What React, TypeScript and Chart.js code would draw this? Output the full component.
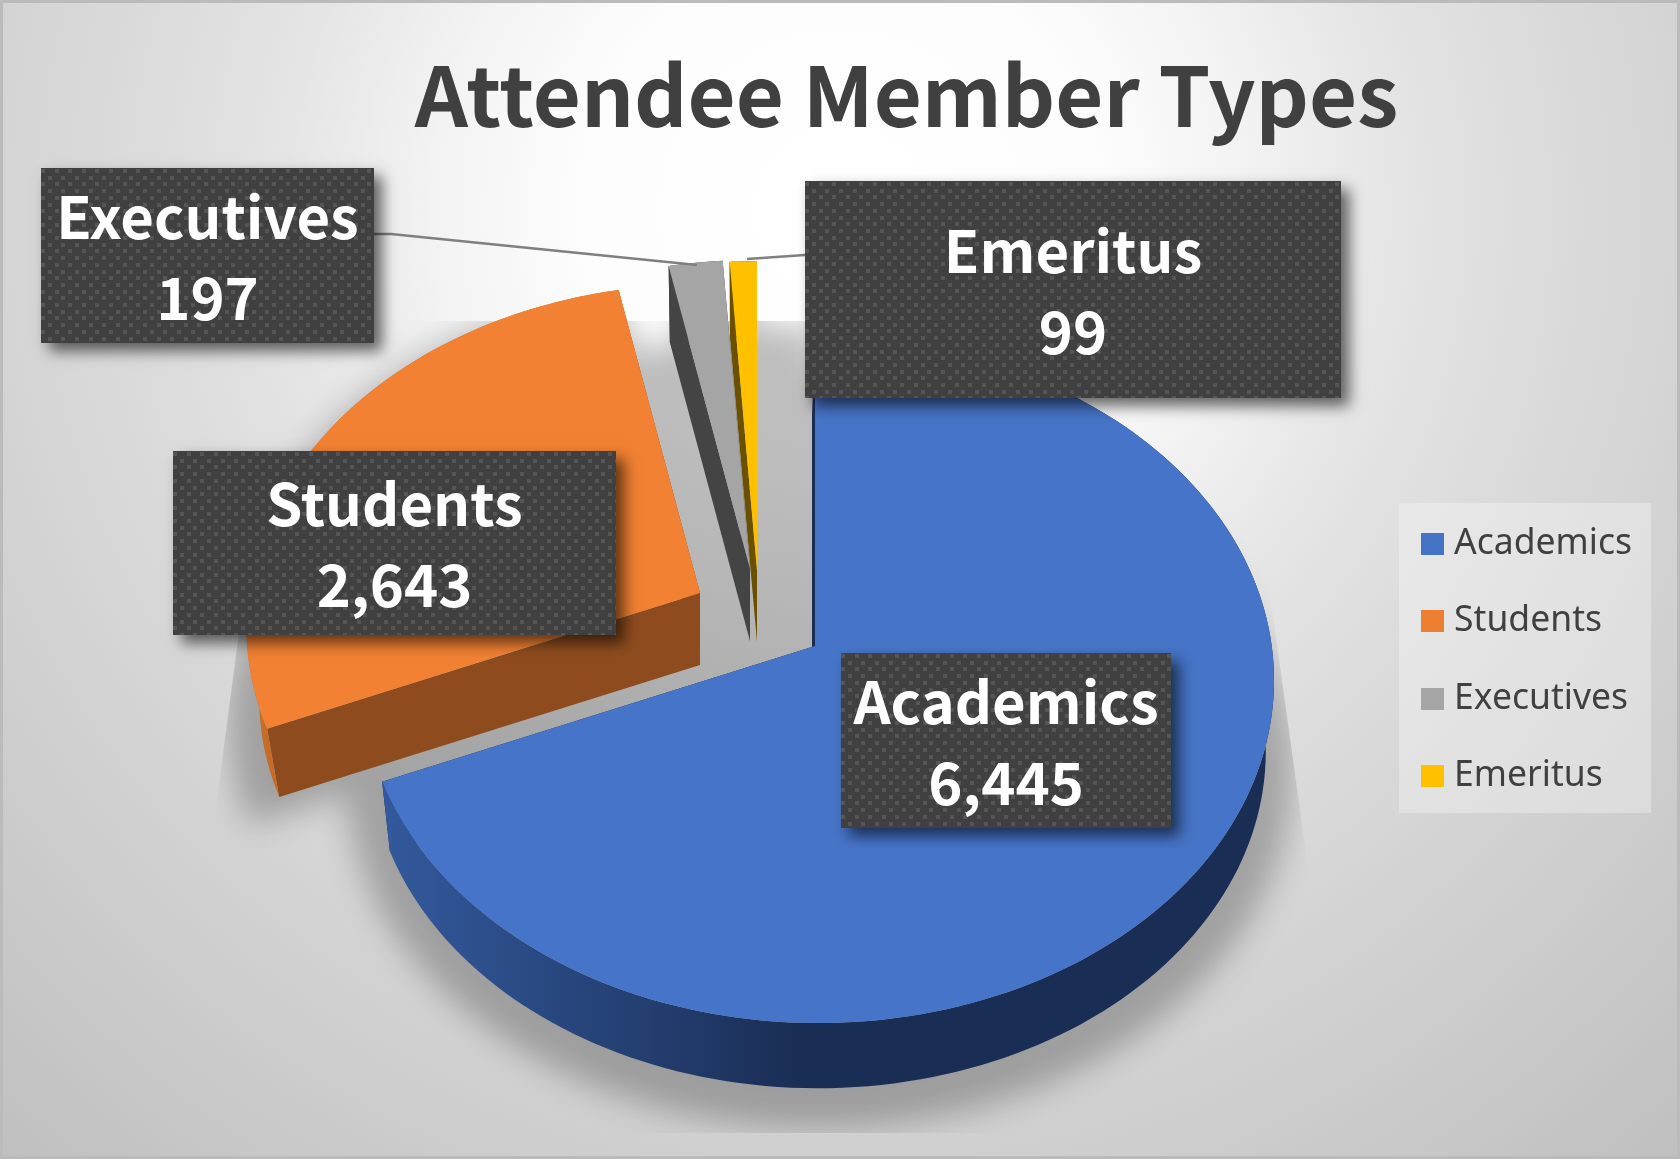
import React, { useEffect, useRef } from "react";
import { Chart, registerables } from "chart.js";

Chart.register(...registerables);

const chartTitle = "Attendee Member Types";
const categories = ["Academics", "Students", "Executives", "Emeritus"];
const memberCounts = [6445, 2643, 197, 99];

const legendColors = ["#4472c4", "#ed7d31", "#a5a5a5", "#ffc000"];
const faceColors = ["#4674c8", "#f28133", "#a5a5a5", "#ffc000"];
const cutColors = ["#1a2e55", "#8e4c1e", "#444444", "#6b5000"];
const rimColors = ["#1a2e55", "#c66c27", "#444444", "#6b5000"];

const W = 1680;
const H = 1159;
const TAU = Math.PI * 2;

// view of the tilted disc
const RADIUS_X = 454;
const RADIUS_Y = 339.6;
const PERSPECTIVE_Y = 0.0993;
const PERSPECTIVE_X = 0.006;
const DEPTH = 72;
const APEX = [
  { x: 815, y: 646, cutDx: -3, bottom: 0.982 },
  { x: 700, y: 593, cutDx: 0, bottom: 0.972 },
  { x: 750, y: 569, cutDx: 0, bottom: 0.985 },
  { x: 757, y: 570, cutDx: 0, bottom: 0.985 },
];
const DRAW_ORDER = [1, 2, 3, 0];

const LABEL_BOXES = [
  { l: 841, t: 653, r: 1171, b: 828 },
  { l: 173, t: 451, r: 616, b: 635 },
  { l: 41, t: 168, r: 374, b: 343 },
  { l: 805, t: 181, r: 1341, b: 398 },
];
const LEADERS = [
  null,
  null,
  [[374, 234], [391, 234], [697, 265]],
  [[805, 255], [747, 259]],
];

const project = (theta: number, a: { x: number; y: number }, scale = 1, dy = 0, dx = 0) => {
  const u = Math.sin(theta);
  const v = -Math.cos(theta);
  const w = 1 - PERSPECTIVE_Y * v - PERSPECTIVE_X * u;
  return {
    x: a.x + dx + (scale * RADIUS_X * u) / w,
    y: a.y + dy + (scale * RADIUS_Y * v) / w,
  };
};

const sweep = (t0: number, t1: number) => {
  const n = Math.max(2, Math.ceil(((t1 - t0) / TAU) * 240));
  const out: number[] = [];
  for (let i = 0; i <= n; i++) out.push(t0 + ((t1 - t0) * i) / n);
  return out;
};

const wedgePath = (ctx: CanvasRenderingContext2D, t0: number, t1: number, a: any, scale = 1, dy = 0) => {
  ctx.moveTo(a.x, a.y + dy);
  for (const t of sweep(t0, t1)) {
    const p = project(t, a, scale, dy);
    ctx.lineTo(p.x, p.y);
  }
  ctx.closePath();
};

const backdrop = {
  id: "backdrop",
  beforeDraw(chart: any) {
    const ctx: CanvasRenderingContext2D = chart.ctx;
    ctx.save();
    const g = ctx.createRadialGradient(840, 210, 0, 840, 210, 1260);
    g.addColorStop(0, "#ffffff");
    g.addColorStop(0.2, "#fdfdfd");
    g.addColorStop(0.32, "#f3f3f3");
    g.addColorStop(0.44, "#e5e5e5");
    g.addColorStop(0.55, "#dcdcdc");
    g.addColorStop(0.645, "#d6d6d6");
    g.addColorStop(0.74, "#d0d0d0");
    g.addColorStop(0.95, "#c3c3c3");
    g.addColorStop(1, "#c0c0c0");
    ctx.fillStyle = g;
    ctx.fillRect(0, 0, W, H);
    ctx.strokeStyle = "#bbbbbb";
    ctx.lineWidth = 6;
    ctx.strokeRect(0, 0, W, H);
    // legend panel
    ctx.fillStyle = "rgba(255,255,255,0.3)";
    ctx.fillRect(1399, 503, 252, 310);
    ctx.restore();
  },
};

const pie3d = {
  id: "pie3d",
  beforeDatasetsDraw(chart: any) {
    const ctx: CanvasRenderingContext2D = chart.ctx;
    const arcs = chart.getDatasetMeta(0).data;
    const angles = arcs.map((el: any) => {
      const p = el.getProps(["startAngle", "endAngle"], true);
      return [p.startAngle + Math.PI / 2, p.endAngle + Math.PI / 2];
    });

    // cast shadow, limited to the floor trapezoid
    ctx.save();
    ctx.beginPath();
    ctx.moveTo(280, 321);
    ctx.lineTo(1232, 321);
    ctx.lineTo(1345, 1133);
    ctx.lineTo(173, 1133);
    ctx.closePath();
    ctx.clip();
    ctx.filter = "blur(16px)";
    ctx.fillStyle = "rgba(0,0,0,0.25)";
    ctx.beginPath();
    const hub = APEX[0];
    wedgePath(ctx, 0, TAU, hub, 0.96, 20);
    wedgePath(ctx, 5.5, TAU, hub, 1.04, 0);
    wedgePath(ctx, 0, TAU, hub, 1.04, 85);
    angles.forEach((t: number[], i: number) => {
      wedgePath(ctx, t[0], t[1], APEX[i], 1.04, 90);
      if (i > 0) wedgePath(ctx, t[0], t[1], APEX[i], 1, 0);
    });
    ctx.fill("nonzero");
    ctx.restore();

    for (const i of DRAW_ORDER) {
      const [t0, t1] = angles[i];
      const a = APEX[i];
      const ts = sweep(t0, t1);

      // cut walls
      for (const t of [t0, t1]) {
        const dx = t === t0 ? a.cutDx : 0;
        const p0 = project(t, a);
        const p1 = project(t, a, a.bottom, DEPTH, dx);
        ctx.beginPath();
        ctx.moveTo(a.x, a.y);
        ctx.lineTo(p0.x, p0.y);
        ctx.lineTo(p1.x, p1.y);
        ctx.lineTo(a.x + dx, a.y + DEPTH);
        ctx.closePath();
        ctx.fillStyle = cutColors[i];
        ctx.fill();
      }

      // rim wall
      let rimFill: any = rimColors[i];
      if (i === 0) {
        const g = ctx.createLinearGradient(385, 0, 800, 0);
        g.addColorStop(0, "#33599c");
        g.addColorStop(1, "#1a2e55");
        rimFill = g;
      }
      ctx.beginPath();
      ts.forEach((t, k) => {
        const p = project(t, a);
        if (k === 0) ctx.moveTo(p.x, p.y);
        else ctx.lineTo(p.x, p.y);
      });
      [...ts].reverse().forEach((t) => {
        const p = project(t, a, a.bottom, DEPTH);
        ctx.lineTo(p.x, p.y);
      });
      ctx.closePath();
      ctx.fillStyle = rimFill;
      ctx.fill();

      // top face
      ctx.beginPath();
      wedgePath(ctx, t0, t1, a);
      ctx.fillStyle = faceColors[i];
      ctx.fill();
    }
    return false;
  },
};

const dataLabels = {
  id: "dataLabels",
  afterDraw(chart: any) {
    const ctx: CanvasRenderingContext2D = chart.ctx;
    const names: string[] = chart.data.labels;
    const values: number[] = chart.data.datasets[0].data;
    ctx.save();
    ctx.strokeStyle = "#7f7f7f";
    ctx.lineWidth = 2.5;
    LEADERS.forEach((pts) => {
      if (!pts) return;
      ctx.beginPath();
      pts.forEach((p, k) => (k ? ctx.lineTo(p[0], p[1]) : ctx.moveTo(p[0], p[1])));
      ctx.stroke();
    });
    names.forEach((name, i) => {
      const b = LABEL_BOXES[i];
      const w = b.r - b.l;
      const h = b.b - b.t;
      ctx.save();
      ctx.shadowColor = "rgba(0,0,0,0.6)";
      ctx.shadowBlur = 14;
      ctx.shadowOffsetX = 8;
      ctx.shadowOffsetY = 8;
      ctx.fillStyle = "#404040";
      ctx.fillRect(b.l, b.t, w, h);
      ctx.restore();
      ctx.save();
      ctx.beginPath();
      ctx.rect(b.l, b.t, w, h);
      ctx.clip();
      ctx.fillStyle = "#555555";
      const step = 13.6;
      for (let row = 0; row * 6.7 < h; row++) {
        const off = row % 2 ? step / 2 : 0;
        for (let col = -1; col * step < w; col++) {
          ctx.fillRect(Math.round(b.l + off + col * step), Math.round(b.t + 1 + row * 6.7), 4, 4);
        }
      }
      ctx.restore();
      const cx = (b.l + b.r) / 2;
      const cy = (b.t + b.b) / 2;
      ctx.fillStyle = "#ffffff";
      ctx.textAlign = "center";
      ctx.textBaseline = "alphabetic";
      ctx.font = 'bold 58px "Noto Sans CJK JP"';
      ctx.fillText(name, cx, cy - 17);
      ctx.fillText(values[i].toLocaleString("en-US"), cx, cy + 64);
    });
    ctx.restore();
  },
};

const swatch = (color: string) => {
  const c = document.createElement("canvas");
  c.width = 23;
  c.height = 22;
  const g = c.getContext("2d")!;
  g.fillStyle = color;
  g.fillRect(0, 0, 23, 22);
  return c;
};

export default function App() {
  const ref = useRef<HTMLCanvasElement>(null);
  useEffect(() => {
    const chart = new Chart(ref.current!, {
      type: "pie",
      data: {
        labels: categories,
        datasets: [{ data: memberCounts, backgroundColor: legendColors, borderWidth: 0 }],
      },
      options: {
        responsive: false,
        animation: false,
        devicePixelRatio: 1,
        layout: { padding: { left: 171, right: 38, top: 0, bottom: 0 } },
        plugins: {
          title: {
            display: true,
            text: chartTitle,
            color: "#404040",
            font: { family: '"Noto Sans CJK JP"', size: 83, weight: "bold" },
            padding: { top: 46, bottom: 15 },
          },
          tooltip: { enabled: false },
          legend: {
            position: "right",
            fullSize: false,
            labels: {
              color: "#404040",
              font: { family: '"Noto Sans"', size: 35.5 },
              padding: 42,
              boxWidth: 8,
              boxHeight: 36,
              usePointStyle: true,
              pointStyleWidth: 8,
              generateLabels: (c: any) =>
                c.data.labels.map((text: string, i: number) => ({
                  text,
                  fontColor: "#404040",
                  pointStyle: swatch(legendColors[i]),
                  fillStyle: legendColors[i],
                  lineWidth: 0,
                  index: i,
                })),
            },
          },
        },
      } as any,
      plugins: [backdrop, pie3d, dataLabels],
    });
    return () => chart.destroy();
  }, []);
  return (
    <canvas
      ref={ref}
      width={W}
      height={H}
      style={{ position: "absolute", left: 0, top: 0, width: W, height: H, display: "block" }}
    />
  );
}
